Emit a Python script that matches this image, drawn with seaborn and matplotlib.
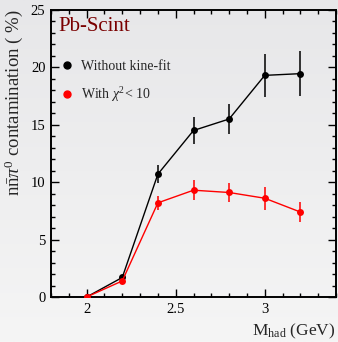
import numpy as np
import pandas as pd
import matplotlib
matplotlib.use("Agg")
import matplotlib.pyplot as plt
import seaborn as sns
from matplotlib.lines import Line2D
from matplotlib.ticker import MultipleLocator
from matplotlib.colors import LinearSegmentedColormap

# Data
mass = [2.0, 2.2, 2.4, 2.6, 2.8, 3.0, 3.2]
no_fit = [0.0, 1.7, 10.7, 14.5, 15.5, 19.3, 19.45]
no_fit_err = [0.0, 0.2, 0.8, 1.2, 1.3, 1.85, 1.95]
chi2 = [0.0, 1.4, 8.2, 9.3, 9.1, 8.6, 7.4]
chi2_err = [0.0, 0.15, 0.6, 0.85, 0.85, 1.0, 0.9]
labels = ["Without kine-fit", r"With $\chi^2$< 10"]
colors = ["black", "#ff0000"]

sns.set_theme(style="ticks")
plt.rcParams["font.family"] = ["Liberation Serif", "DejaVu Serif"]
plt.rcParams["mathtext.fontset"] = "custom"
plt.rcParams["mathtext.rm"] = "Liberation Serif"
plt.rcParams["mathtext.it"] = "Liberation Serif:italic"

df = pd.DataFrame({
    "M": mass * 2,
    "val": no_fit + chi2,
    "err": no_fit_err + chi2_err,
    "series": [labels[0]] * len(mass) + [labels[1]] * len(mass),
})

fig = plt.figure(figsize=(3.38, 3.42), dpi=100)
# gradient background
bg = fig.add_axes([0, 0, 1, 1], zorder=-10)
grad = np.linspace(0, 1, 256).reshape(-1, 1)
cmap = LinearSegmentedColormap.from_list("bg", ["#e7e7e9", "#f5f5f5"])
bg.imshow(grad, aspect="auto", cmap=cmap, extent=[0, 1, 0, 1], origin="upper")
bg.axis("off")

ax = fig.add_axes([0.151, 0.1316, 0.843, 0.8394])
ax.set_facecolor("none")

sns.lineplot(data=df, x="M", y="val", hue="series", hue_order=labels,
             palette=colors, marker="o", markersize=5, markeredgewidth=0,
             linewidth=1.0, legend=False, ax=ax, zorder=3)
for lab, c in zip(labels, colors):
    sub = df[df.series == lab]
    ax.errorbar(sub.M, sub.val, yerr=sub.err, fmt="none", ecolor=c,
                elinewidth=1.3, capsize=0, zorder=2, alpha=0.85)

ax.set_xlim(1.8, 3.4)
ax.set_ylim(0, 25)
ax.xaxis.set_major_locator(MultipleLocator(0.5))
ax.xaxis.set_minor_locator(MultipleLocator(0.1))
ax.yaxis.set_major_locator(MultipleLocator(5))
ax.yaxis.set_minor_locator(MultipleLocator(1))
ax.set_xticks([2, 2.5, 3])
ax.set_xticklabels(["2", "2.5", "3"])
ax.tick_params(which="both", direction="in", top=True, right=True,
               colors="black", labelsize=10.5, width=1.0)
ax.tick_params(which="major", length=5.5, pad=4)
ax.tick_params(which="minor", length=2.8)
for s in ax.spines.values():
    s.set_linewidth(1.4)
    s.set_color("black")

ax.set_xlabel(r"M$_{\mathrm{had}}$ (GeV)", fontsize=12.5, loc="right")
ax.xaxis.set_label_coords(1.0, -0.088)
ax.set_ylabel(r"n$\bar{\mathrm{n}}\pi^0$ contamination ( %)", fontsize=13.5,
              loc="top")
ax.yaxis.set_label_coords(-0.09, 1.0)

ax.text(0.025, 0.975, "Pb-Scint", transform=ax.transAxes, fontsize=15,
        color="#7a0000", va="top", ha="left")

handles = [Line2D([], [], marker="o", color=c, linestyle="none", markersize=5)
           for c in colors]
ax.legend(handles, labels, loc="upper left", bbox_to_anchor=(-0.025, 0.87),
          frameon=False, fontsize=10, handletextpad=0.3, labelspacing=0.9,
          handlelength=1.5)

fig.savefig("out.png", dpi=100)
